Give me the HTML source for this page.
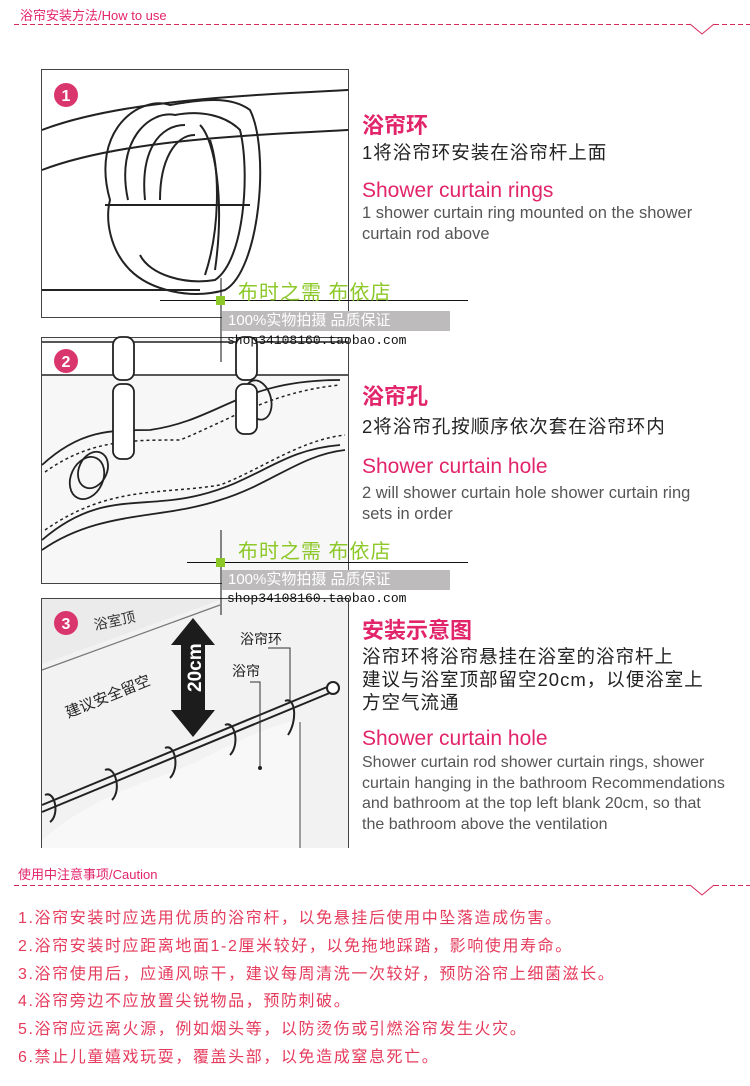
<!DOCTYPE html>
<html><head><meta charset="utf-8"><style>
*{margin:0;padding:0;box-sizing:border-box}
body{width:750px;height:1086px;background:#fff;position:relative;overflow:hidden;font-family:"Liberation Sans","Noto Sans CJK SC",sans-serif}
.a{position:absolute;white-space:nowrap}
.pk{color:#e2246a}
.h1{font-size:22px;font-weight:bold;color:#e2246a}
.cn{font-size:18.5px;color:#222;letter-spacing:1px}
.en{font-size:21px;color:#e2246a}
.gr{font-size:16.5px;color:#555;line-height:21px}
.cau{font-size:16px;color:#e53b5c;letter-spacing:1.6px;left:18px}
.wm1{font-size:20px;color:#8cc828;letter-spacing:1px}
.wm2{background:#bdbbbb;color:#fff;font-size:15px;height:20px;line-height:20px;padding-left:6px;width:228px}
.wm3{font-family:"Liberation Mono",monospace;font-size:13px;color:#111}
</style></head><body>
<div class="a pk" style="left:20px;top:5px;font-size:13px">浴帘安装方法/How to use</div>
<svg class="a" style="left:0;top:0" width="750" height="1086">
<g stroke="#d7285a" stroke-width="1" fill="none" stroke-dasharray="5,3">
<path d="M14 24.5H690"/><path d="M714 24.5H750"/>
<path d="M14 885.5H690"/><path d="M714 885.5H750"/>
</g>
<path d="M690 24l12 10 12-10" stroke="#d7285a" fill="none"/>
<path d="M690 885l12 10 12-10" stroke="#d7285a" fill="none"/>
<!-- panel 1 -->
<rect x="41.5" y="69.5" width="307" height="248" fill="#fff" stroke="#444"/>
<g stroke="#222" stroke-width="2" fill="none">
<path d="M42 130 C120 100 250 95 348 90"/><path d="M42 170 C120 140 250 135 348 130"/>
<path d="M42 290 H200"/>
<path d="M110 200 C90 130 140 95 170 105 C200 100 230 95 250 110 C270 150 260 270 225 290 C190 300 150 290 130 270 C110 250 105 220 110 200Z"/>
<path d="M128 200 C115 140 150 110 175 115 C200 110 225 115 240 130 C250 170 245 260 215 280 C185 285 150 275 140 255"/>
<path d="M145 200 C140 150 160 125 185 125 M200 125 C215 140 225 200 215 270"/>
<path d="M160 200 C160 160 175 135 195 135 M210 140 C220 170 220 230 205 275"/>
<path d="M105 205 H250"/>
</g>
<circle cx="66" cy="95" r="12" fill="#d9366d"/>
<text x="66" y="101" fill="#fff" font-size="16" font-weight="bold" text-anchor="middle" font-family="Liberation Sans">1</text>
<!-- panel 2 -->
<rect x="41.5" y="337.5" width="307" height="246" fill="#f7f7f7" stroke="#444"/>
<rect x="42" y="343" width="306" height="32" fill="#fff"/>
<path d="M42 342H348M42 375H348" stroke="#222" stroke-width="1.5"/>
<g stroke="#222" stroke-width="1.8" fill="none">
<path d="M42 465 C80 430 110 430 150 430 C220 420 240 380 340 380"/>
<path d="M42 540 C100 490 140 510 200 495 C260 480 280 450 340 445"/>
<path d="M42 550 C100 510 160 520 220 500 C270 485 300 455 345 450"/>
<ellipse cx="87" cy="478" rx="16" ry="22" transform="rotate(25 87 478)"/>
<ellipse cx="93" cy="470" rx="14" ry="19" transform="rotate(25 93 470)"/>
<ellipse cx="258" cy="400" rx="13" ry="20" transform="rotate(-15 258 400)"/>
</g>
<g stroke="#222" stroke-width="1.5" stroke-dasharray="3,3" fill="none">
<path d="M45 472 C90 440 130 440 180 440 C230 420 270 392 340 385"/>
<path d="M45 530 C110 485 160 495 220 485 C260 470 300 440 345 435"/>
</g>
<g stroke="#222" stroke-width="1.8" fill="#fff">
<rect x="113" y="337" width="21" height="43" rx="8"/><rect x="113" y="384" width="21" height="75" rx="8"/>
<rect x="236" y="337" width="21" height="43" rx="8"/><rect x="236" y="384" width="21" height="50" rx="8"/>
</g>
<circle cx="66" cy="361" r="12" fill="#d9366d"/>
<text x="66" y="367" fill="#fff" font-size="16" font-weight="bold" text-anchor="middle" font-family="Liberation Sans">2</text>
<!-- panel 3 -->
<rect x="41.5" y="598.5" width="307" height="249" fill="#ebebeb" stroke="#444"/>
<path d="M42 664 L220 600 H348 V848 H42Z" fill="#f2f2f2"/>
<path d="M42 670 L220 605" stroke="#777" stroke-width="1.2"/>
<path d="M42 840 C100 790 160 780 200 760 C240 740 270 725 300 720 V848 H42Z" fill="#f8f8f8"/>
<path d="M300 722 V848" stroke="#444"/>
<g stroke="#222" stroke-width="2" fill="none">
<path d="M42 805 L332 685"/><path d="M42 812 L332 692"/>
<circle cx="333" cy="688" r="6" fill="#fff"/>
<path d="M45 795 C55 790 60 815 50 822 M105 770 C115 765 122 790 112 800 M165 748 C175 743 180 768 170 778 M225 725 C235 720 240 745 230 755 M285 701 C295 696 298 720 288 735"/>
</g>
<path d="M193 618 L215 645 H205 V710 H215 L193 737 L171 710 H181 V645 H171Z" fill="#1c1c1c"/>
<text x="0" y="0" transform="translate(201 692) rotate(-90)" fill="#fff" font-size="19" font-weight="bold" font-family="Liberation Sans">20cm</text>
<circle cx="66" cy="623" r="12" fill="#d9366d"/>
<text x="66" y="629" fill="#fff" font-size="16" font-weight="bold" text-anchor="middle" font-family="Liberation Sans">3</text>
<text x="95" y="630" font-size="14" fill="#333" transform="rotate(-12 95 630)">浴室顶</text>
<text x="68" y="718" font-size="15" fill="#222" transform="rotate(-22 68 718)">建议安全留空</text>
<text x="240" y="644" font-size="14" fill="#222">浴帘环</text>
<text x="232" y="676" font-size="14" fill="#222">浴帘</text>
<path d="M268 648 H290 V700 M250 682 H260 V768" stroke="#333" fill="none"/>
<circle cx="260" cy="768" r="2" fill="#222"/>
<g stroke="#111" stroke-width="1">
<path d="M221 278 V362"/><path d="M160 300.5 H468"/>
<path d="M221 530 V615"/><path d="M187 562.5 H468"/>
</g>
<rect x="216" y="296" width="9" height="9" fill="#8cc828"/>
<rect x="216" y="558" width="9" height="9" fill="#8cc828"/>
</svg>
<div class="a wm1" style="left:238px;top:276px">布时之需 布依店</div>
<div class="a wm2" style="left:222px;top:311px">100%实物拍摄 品质保证</div>
<div class="a wm3" style="left:227px;top:333px">shop34108160.taobao.com</div>
<div class="a wm1" style="left:238px;top:535px">布时之需 布依店</div>
<div class="a wm2" style="left:222px;top:570px">100%实物拍摄 品质保证</div>
<div class="a wm3" style="left:227px;top:591px">shop34108160.taobao.com</div>

<div class="a h1" style="left:362px;top:108px">浴帘环</div>
<div class="a cn" style="left:362px;top:139px">1将浴帘环安装在浴帘杆上面</div>
<div class="a en" style="left:362px;top:179px">Shower curtain rings</div>
<div class="a gr" style="left:362px;top:203px">1 shower curtain ring mounted on the shower<br>curtain rod above</div>

<div class="a h1" style="left:362px;top:379px">浴帘孔</div>
<div class="a cn" style="left:362px;top:413px">2将浴帘孔按顺序依次套在浴帘环内</div>
<div class="a en" style="left:362px;top:455px">Shower curtain hole</div>
<div class="a gr" style="left:362px;top:483px">2 will shower curtain hole shower curtain ring<br>sets in order</div>

<div class="a h1" style="left:362px;top:613px">安装示意图</div>
<div class="a cn" style="left:362px;top:645px;line-height:23px">浴帘环将浴帘悬挂在浴室的浴帘杆上<br>建议与浴室顶部留空20cm，以便浴室上<br>方空气流通</div>
<div class="a en" style="left:362px;top:727px">Shower curtain hole</div>
<div class="a gr" style="left:362px;top:753px;font-size:16px;line-height:20.5px">Shower curtain rod shower curtain rings, shower<br>curtain hanging in the bathroom Recommendations<br>and bathroom at the top left blank 20cm, so that<br>the bathroom above the ventilation</div>

<div class="a pk" style="left:18px;top:864px;font-size:13px">使用中注意事项/Caution</div>
<div class="a cau" style="top:904px">1.浴帘安装时应选用优质的浴帘杆，以免悬挂后使用中坠落造成伤害。</div>
<div class="a cau" style="top:932px">2.浴帘安装时应距离地面1-2厘米较好，以免拖地踩踏，影响使用寿命。</div>
<div class="a cau" style="top:960px">3.浴帘使用后，应通风晾干，建议每周清洗一次较好，预防浴帘上细菌滋长。</div>
<div class="a cau" style="top:987px">4.浴帘旁边不应放置尖锐物品，预防刺破。</div>
<div class="a cau" style="top:1015px">5.浴帘应远离火源，例如烟头等，以防烫伤或引燃浴帘发生火灾。</div>
<div class="a cau" style="top:1043px">6.禁止儿童嬉戏玩耍，覆盖头部，以免造成窒息死亡。</div>
</body></html>
